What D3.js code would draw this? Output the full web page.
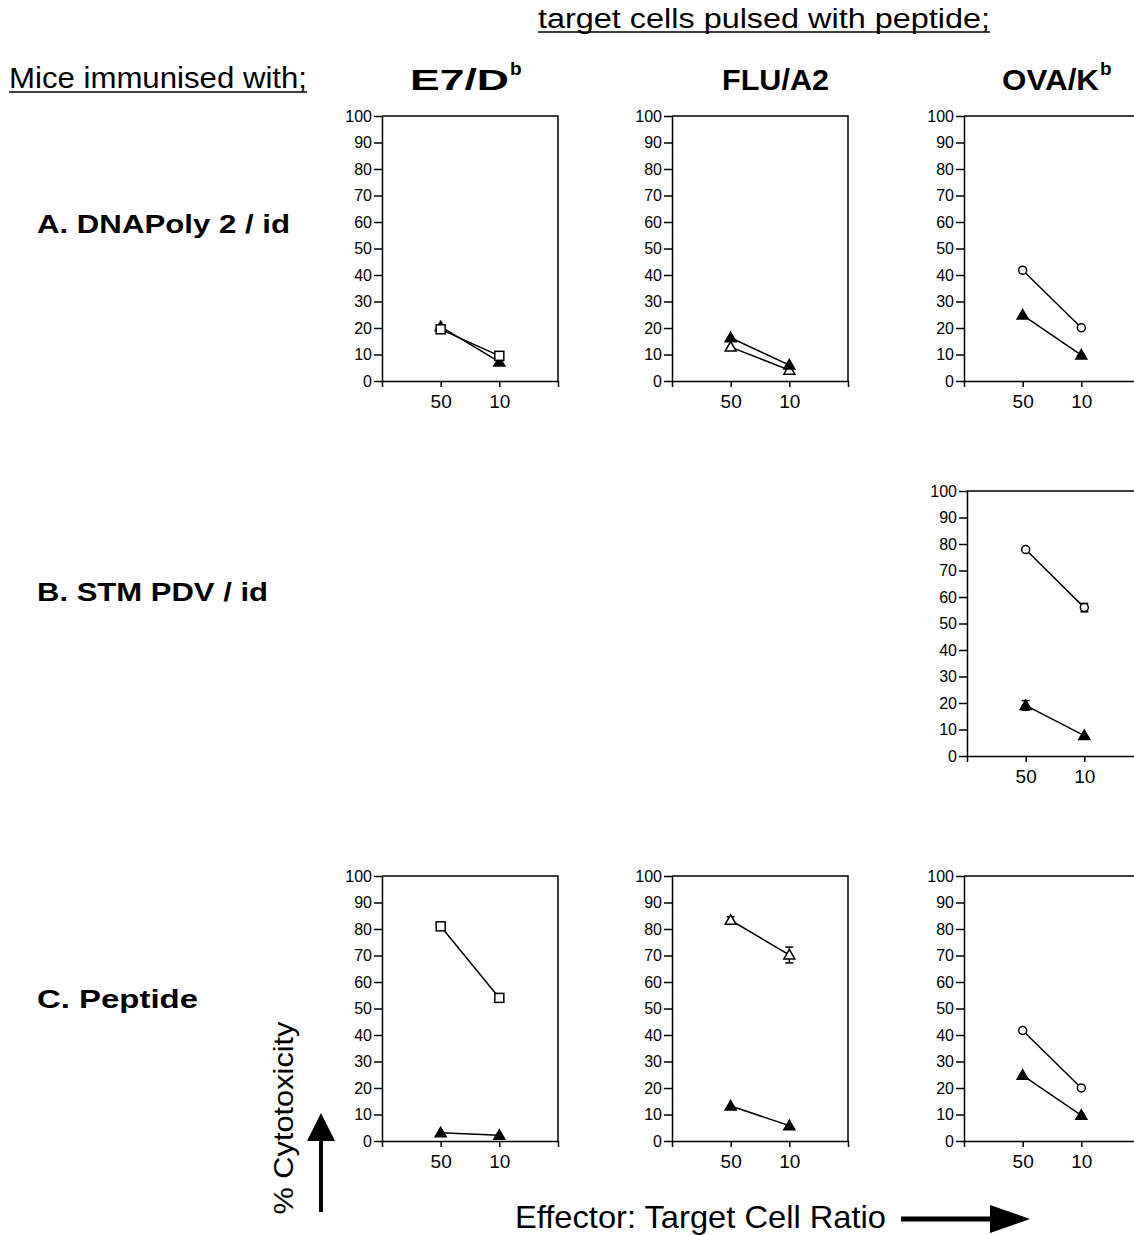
<!DOCTYPE html>
<html>
<head>
<meta charset="utf-8">
<script src="https://cdn.jsdelivr.net/npm/d3@7"></script>
<style>
  body { margin: 0; background: #fff; }
  svg { display: block; font-family: "Liberation Sans", Arial, sans-serif; }
  .axis path, .axis line { stroke: #000; stroke-width: 1.5; }
  .axis text { fill: #000; }
</style>
</head>
<body>
<svg id="chart" width="1134" height="1235"></svg>
<script>
// --- DATA ---
const ratios = ["50", "10"];
const yTicks = d3.range(0, 101, 10);
const rowLabels = ["A. DNAPoly 2 / id", "B. STM PDV / id", "C. Peptide"];
const colLabels = [["E7/D", "b"], ["FLU/A2", ""], ["OVA/K", "b"]];

// values at E:T 50 and 10 (% cytotoxicity)
const aE7Square = [19.5, 9.5];
const aE7FilledTri = [20.5, 7.2];
const aFluFilledTri = [16.3, 6.0];
const aFluOpenTri = [12.8, 4.1];
const aOvaCircle = [41.8, 20.1];
const aOvaFilledTri = [24.9, 9.8];
const bOvaCircle = [77.9, 56.0];
const bOvaCircleErr = [0, 1.6];
const bOvaFilledTri = [19.1, 7.7];
const bOvaFilledTriErr = [1.8, 0];
const cE7Square = [81.0, 54.0];
const cE7FilledTri = [3.1, 2.2];
const cFluOpenTri = [83.3, 70.2];
const cFluOpenTriErr = [1.3, 3.0];
const cFluFilledTri = [13.2, 5.8];
const cOvaCircle = [41.7, 20.0];
const cOvaFilledTri = [24.8, 9.7];

const panels = [
  { row: 0, col: 0, series: [
    { v: aE7FilledTri, shape: "tri", fill: true },
    { v: aE7Square, shape: "square", fill: false }] },
  { row: 0, col: 1, series: [
    { v: aFluOpenTri, shape: "tri", fill: false },
    { v: aFluFilledTri, shape: "tri", fill: true }] },
  { row: 0, col: 2, series: [
    { v: aOvaCircle, shape: "circle", fill: false },
    { v: aOvaFilledTri, shape: "tri", fill: true }] },
  { row: 1, col: 2, dx: 3, series: [
    { v: bOvaCircle, err: bOvaCircleErr, shape: "circle", fill: false },
    { v: bOvaFilledTri, err: bOvaFilledTriErr, shape: "tri", fill: true }] },
  { row: 2, col: 0, series: [
    { v: cE7Square, shape: "square", fill: false },
    { v: cE7FilledTri, shape: "tri", fill: true }] },
  { row: 2, col: 1, series: [
    { v: cFluOpenTri, err: cFluOpenTriErr, shape: "tri", fill: false },
    { v: cFluFilledTri, shape: "tri", fill: true }] },
  { row: 2, col: 2, series: [
    { v: cOvaCircle, shape: "circle", fill: false },
    { v: cOvaFilledTri, shape: "tri", fill: true }] }
];

// --- LAYOUT ---
const PW = 176, PH = 265;
const colX = [382, 672, 964];
const rowY = [116, 491, 876];

const svg = d3.select("#chart");

const y = d3.scaleLinear().domain([0, 100]).range([PH, 0]);
const x = d3.scaleLinear().domain([0, 3]).range([0, PW]);

function marker(sel, shape) {
  if (shape === "square") {
    sel.append("rect").attr("x", -4.5).attr("y", -4.5).attr("width", 9).attr("height", 9);
  } else if (shape === "circle") {
    sel.append("circle").attr("r", 4);
  } else {
    sel.append("path").attr("d", "M0,-5.5L5.5,4L-5.5,4Z");
  }
}

panels.forEach(p => {
  const g = svg.append("g")
    .attr("transform", `translate(${colX[p.col] + (p.dx || 0)},${rowY[p.row]})`);

  // frame: top and right
  g.append("path")
    .attr("d", `M0,0H${PW}V${PH}`)
    .attr("fill", "none").attr("stroke", "#000").attr("stroke-width", 1.5);

  g.append("g").attr("class", "axis")
    .call(d3.axisLeft(y).tickValues(yTicks).tickSize(8).tickPadding(2).tickSizeOuter(0))
    .call(s => s.selectAll("text").attr("font-size", 16));

  g.append("g").attr("class", "axis")
    .attr("transform", `translate(0,${PH})`)
    .call(d3.axisBottom(x).tickValues([0, 1, 2, 3]).tickSize(6).tickPadding(8).tickSizeOuter(0)
      .tickFormat(i => ratios[i - 1] || ""))
    .call(s => s.selectAll("text").attr("font-size", 19));

  const line = d3.line().x((d, i) => x(i + 1)).y(d => y(d));

  p.series.forEach(s => {
    g.append("path").datum(s.v)
      .attr("d", line)
      .attr("fill", "none").attr("stroke", "#000").attr("stroke-width", 1.5);

    if (s.err) {
      s.v.forEach((d, i) => {
        const e = s.err[i];
        if (!e) return;
        const cx = x(i + 1);
        const eg = g.append("g").attr("stroke", "#000").attr("stroke-width", 1.5);
        eg.append("line").attr("x1", cx).attr("x2", cx).attr("y1", y(d - e)).attr("y2", y(d + e));
        eg.append("line").attr("x1", cx - 4).attr("x2", cx + 4).attr("y1", y(d - e)).attr("y2", y(d - e));
        eg.append("line").attr("x1", cx - 4).attr("x2", cx + 4).attr("y1", y(d + e)).attr("y2", y(d + e));
      });
    }

    s.v.forEach((d, i) => {
      const m = g.append("g")
        .attr("transform", `translate(${x(i + 1)},${y(d)})`)
        .attr("fill", s.fill ? "#000" : "#fff")
        .attr("stroke", "#000").attr("stroke-width", 1.5);
      marker(m, s.shape);
    });
  });
});

// --- TEXT ---
function underlined(txt, x0, base, len, size) {
  svg.append("text").attr("x", x0).attr("y", base)
    .attr("font-size", size)
    .attr("textLength", len).attr("lengthAdjust", "spacingAndGlyphs")
    .text(txt);
  svg.append("line").attr("x1", x0).attr("x2", x0 + len)
    .attr("y1", base + 4).attr("y2", base + 4)
    .attr("stroke", "#000").attr("stroke-width", 1.5);
}
underlined("target cells pulsed with peptide;", 538, 28, 452, 27);
underlined("Mice immunised with;", 9, 88, 298, 30);

const headX = [[410, 99], [722, 107], [1002, 97]];
colLabels.forEach((c, i) => {
  svg.append("text").attr("x", headX[i][0]).attr("y", 90)
    .attr("font-size", 30).attr("font-weight", "bold")
    .attr("textLength", headX[i][1]).attr("lengthAdjust", "spacingAndGlyphs")
    .text(c[0]);
  if (c[1]) {
    svg.append("text").attr("x", headX[i][0] + headX[i][1] + 1).attr("y", 75)
      .attr("font-size", 19).attr("font-weight", "bold")
      .text(c[1]);
  }
});

const rowBase = [233, 601, 1008];
const rowLen = [253, 231, 161];
rowLabels.forEach((t, i) => {
  svg.append("text").attr("x", 37).attr("y", rowBase[i])
    .attr("font-size", 26).attr("font-weight", "bold")
    .attr("textLength", rowLen[i]).attr("lengthAdjust", "spacingAndGlyphs")
    .text(t);
});

svg.append("text")
  .attr("transform", "translate(293,1118) rotate(-90)")
  .attr("text-anchor", "middle")
  .attr("font-size", 28)
  .attr("textLength", 193).attr("lengthAdjust", "spacingAndGlyphs")
  .text("% Cytotoxicity");

svg.append("text").attr("x", 515).attr("y", 1228)
  .attr("font-size", 32)
  .attr("textLength", 371).attr("lengthAdjust", "spacingAndGlyphs")
  .text("Effector: Target Cell Ratio");

// arrows
svg.append("line").attr("x1", 321).attr("x2", 321).attr("y1", 1212).attr("y2", 1135)
  .attr("stroke", "#000").attr("stroke-width", 4);
svg.append("path").attr("d", "M321,1113L335,1141L307,1141Z").attr("fill", "#000");

svg.append("line").attr("x1", 901).attr("x2", 995).attr("y1", 1219).attr("y2", 1219)
  .attr("stroke", "#000").attr("stroke-width", 5);
svg.append("path").attr("d", "M1030,1219L990,1205L990,1233Z").attr("fill", "#000");
</script>
</body>
</html>
